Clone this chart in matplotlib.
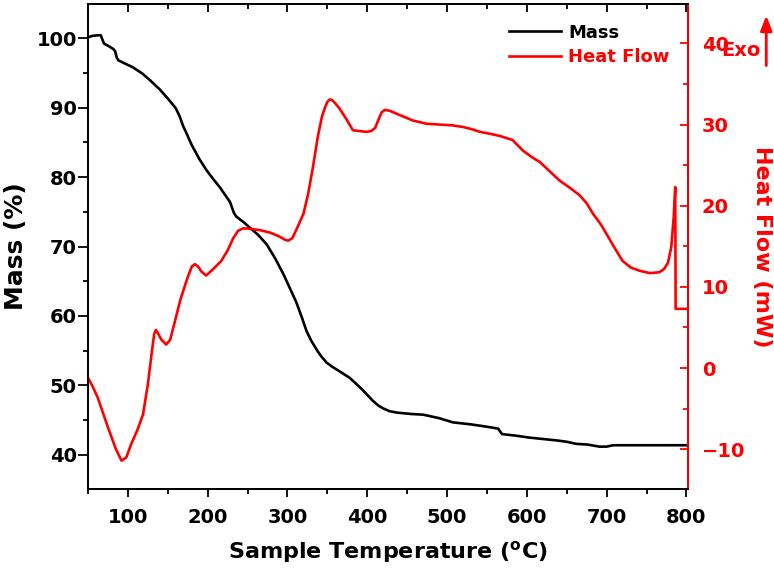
import matplotlib
matplotlib.use('Agg')
import matplotlib.pyplot as plt
from matplotlib.ticker import MultipleLocator

plt.rcParams['font.family'] = 'DejaVu Sans'
plt.rcParams['font.weight'] = 'bold'
plt.rcParams['mathtext.fontset'] = 'dejavusans'

# TGA mass curve
t_mass = [50, 55, 62, 66, 68, 70, 75, 82, 84, 86, 88, 95, 106, 118, 128, 140, 150, 160,
          165, 169, 175, 180, 190, 199, 207, 216, 228, 233, 236, 245, 253, 263, 274, 285, 295,
          303, 311, 318, 324, 330, 338, 343, 349, 356, 363, 378, 393, 407, 414, 420, 428, 437,
          455, 470, 490, 507, 530, 548, 564, 567, 569, 585, 603, 620, 637, 650, 662, 676, 691,
          700, 708, 750, 803]
mass = [100.1, 100.3, 100.4, 100.4, 99.8, 99.2, 98.9, 98.4, 98.1, 97.2, 96.8, 96.4, 95.8,
        94.9, 93.9, 92.6, 91.3, 89.9, 88.7, 87.4, 85.9, 84.6, 82.5, 80.9, 79.7, 78.4, 76.4,
        74.8, 74.3, 73.5, 72.7, 71.7, 70.3, 68.2, 66.0, 64.0, 62.0, 59.8, 57.8, 56.4, 54.9,
        54.1, 53.3, 52.7, 52.2, 51.1, 49.5, 47.8, 47.1, 46.7, 46.3, 46.1, 45.9, 45.8, 45.3,
        44.7, 44.4, 44.1, 43.8, 43.3, 43.0, 42.8, 42.5, 42.3, 42.1, 41.9, 41.6, 41.5, 41.2,
        41.2, 41.4, 41.4, 41.4]

# DSC heat flow curve
t_hf = [50, 56, 62, 75, 85, 92, 98, 104, 112, 119, 125, 130, 133, 135, 137, 142, 148, 153,
        158, 166, 175, 180, 184, 188, 192, 198, 207, 217, 225, 232, 238, 244, 249, 265, 278,
        290, 297, 301, 306, 310, 320, 326, 332, 338, 343, 347, 350, 353, 356, 360, 365, 373,
        382, 390, 399, 405, 410, 414, 418, 422, 428, 440, 457, 474, 490, 507, 520, 532, 541,
        552, 566, 582, 595, 606, 616, 628, 641, 654, 666, 675, 683, 692, 700, 710, 720, 730,
        741, 754, 766, 772, 777, 781, 784, 786, 786.5, 790, 805]
heat_flow = [-1.2, -2.3, -3.6, -7.3, -10.0, -11.4, -11.0, -9.4, -7.6, -5.7, -2.0, 2.0, 4.2,
             4.7, 4.4, 3.5, 2.9, 3.5, 5.4, 8.5, 11.2, 12.5, 12.8, 12.5, 11.9, 11.4, 12.2, 13.2,
             14.5, 16.0, 16.9, 17.2, 17.2, 17.0, 16.7, 16.2, 15.8, 15.7, 16.0, 16.8, 19.0, 21.5,
             24.8, 28.5, 30.9, 32.1, 32.8, 33.1, 33.0, 32.6, 32.0, 30.8, 29.3, 29.2, 29.1, 29.2,
             29.6, 30.6, 31.5, 31.8, 31.7, 31.2, 30.5, 30.1, 30.0, 29.9, 29.7, 29.4, 29.1, 28.9,
             28.6, 28.1, 26.8, 26.0, 25.4, 24.3, 23.1, 22.2, 21.3, 20.3, 19.0, 17.8, 16.5, 14.8,
             13.2, 12.4, 12.0, 11.7, 11.8, 12.2, 13.0, 14.9, 18.5, 22.3, 7.3, 7.3, 7.3]

fig = plt.figure(figsize=(7.74, 5.79), dpi=100)
ax = fig.add_axes([0.1137, 0.1554, 0.7752, 0.8377])
ax2 = ax.twinx()

l1, = ax.plot(t_mass, mass, color='black', lw=1.9, label='Mass')
l2, = ax2.plot(t_hf, heat_flow, color='red', lw=1.9, label='Heat Flow')

ax.set_xlim(50, 802)
ax.set_ylim(35.1, 104.9)
ax2.set_ylim(-14.9, 44.85)

ax.xaxis.set_major_locator(MultipleLocator(100))
ax.xaxis.set_minor_locator(MultipleLocator(50))
ax.yaxis.set_major_locator(MultipleLocator(10))
ax.yaxis.set_minor_locator(MultipleLocator(5))
ax2.yaxis.set_major_locator(MultipleLocator(10))
ax2.yaxis.set_minor_locator(MultipleLocator(5))

for s in ax.spines.values():
    s.set_linewidth(1.3)
for s in ax2.spines.values():
    s.set_linewidth(1.3)
ax2.spines['right'].set_color('red')

ax.tick_params(axis='x', which='both', direction='out', top=False, labelsize=14, pad=8)
ax.tick_params(axis='x', which='major', length=6, width=1.3)
ax.tick_params(axis='x', which='minor', length=3.5, width=1.3)
ax.tick_params(axis='y', which='both', direction='out', labelsize=14, pad=1)
ax.tick_params(axis='y', which='major', length=7, width=1.3)
ax.tick_params(axis='y', which='minor', length=3.5, width=1.3)

# inward ticks on the top edge
top = ax.secondary_xaxis('top')
top.xaxis.set_major_locator(MultipleLocator(100))
top.xaxis.set_minor_locator(MultipleLocator(50))
top.tick_params(axis='x', which='major', direction='in', length=6, width=1.3, labeltop=False)
top.tick_params(axis='x', which='minor', direction='in', length=3.5, width=1.3)
top.spines['top'].set_linewidth(1.3)

ax2.tick_params(axis='y', which='both', direction='in', colors='red', labelsize=14, pad=10)
ax2.tick_params(axis='y', which='major', length=6, width=1.3)
ax2.tick_params(axis='y', which='minor', length=3.5, width=1.3)

ax.set_xlabel(r'Sample Temperature ($\mathbf{^o}$C)', fontsize=16, fontweight='bold', labelpad=8)
ax.set_ylabel('Mass (%)', fontsize=18, fontweight='bold', labelpad=6)
ax2.set_ylabel('Heat Flow (mW)', fontsize=16, fontweight='bold', color='red',
               rotation=270, labelpad=19)

leg = ax2.legend(handles=[l1, l2], loc='upper left', bbox_to_anchor=(0.636, 0.987),
                 bbox_transform=fig.transFigure, frameon=False, fontsize=13,
                 handlelength=2.9, handletextpad=0.4, labelspacing=0.35)
for txt, c in zip(leg.get_texts(), ['black', 'red']):
    txt.set_color(c)

fig.text(0.932, 0.913, 'Exo', color='red', fontsize=14, fontweight='bold', ha='left', va='center')
ax2.annotate('', xy=(0.99, 0.978), xytext=(0.99, 0.882), xycoords='figure fraction',
             arrowprops=dict(arrowstyle='-|>,head_length=0.9,head_width=0.35',
                             color='red', lw=2))

fig.savefig('out.png', dpi=100)
